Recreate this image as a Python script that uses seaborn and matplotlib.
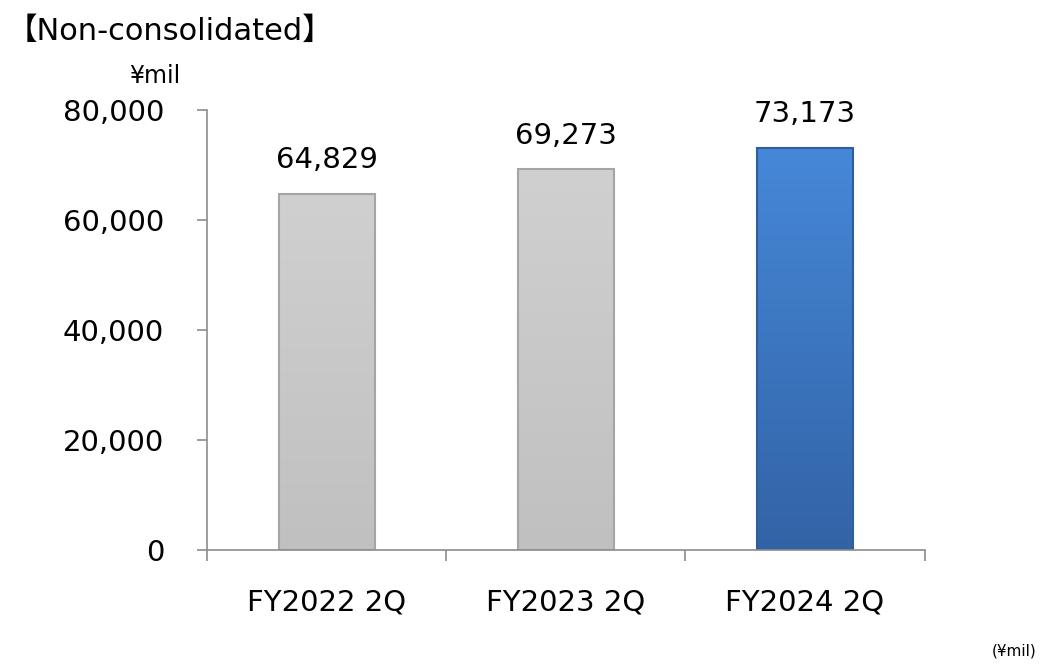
import matplotlib
matplotlib.use("Agg")
import matplotlib.pyplot as plt
from matplotlib.ticker import FuncFormatter, FixedLocator
from matplotlib.colors import LinearSegmentedColormap
import numpy as np
import seaborn as sns
import pandas as pd

# data
periods = ["FY2022 2Q", "FY2023 2Q", "FY2024 2Q"]
sales = [64829, 69273, 73173]
bar_colors = ["#C9C9C9", "#C9C9C9", "#3D7BC9"]
# top / bottom shades for the soft gradient look
grad_top = ["#D0D0D0", "#D0D0D0", "#4688D8"]
grad_bottom = ["#C0C0C0", "#C0C0C0", "#3263A6"]
edge_colors = ["#A5A5A5", "#A5A5A5", "#2F5E9E"]

df = pd.DataFrame({"period": periods, "sales": sales})

sns.set_style("white")
plt.rcParams["font.family"] = ["DejaVu Sans"]
plt.rcParams["text.color"] = "black"
plt.rcParams["xtick.labelcolor"] = "black"
plt.rcParams["ytick.labelcolor"] = "black"

fig = plt.figure(figsize=(10.47, 6.64), dpi=100)
ax = fig.add_axes([0.198, 0.172, 0.685, 0.662])

sns.barplot(data=df, x="period", y="sales", hue="period", palette=bar_colors,
            width=0.4, legend=False, ax=ax, saturation=1)

# fill each bar with a vertical gradient clipped to the bar
grad = np.linspace(0, 1, 256).reshape(-1, 1)
for patch, top, bot, ec in zip(ax.patches, grad_top, grad_bottom, edge_colors):
    x0, y0 = patch.get_x(), patch.get_y()
    w, h = patch.get_width(), patch.get_height()
    cmap = LinearSegmentedColormap.from_list("g", [bot, top])
    im = ax.imshow(grad, cmap=cmap, aspect="auto", origin="lower",
                   extent=(x0, x0 + w, y0, y0 + h), zorder=patch.get_zorder())
    im.set_clip_path(patch)
    patch.set_facecolor("none")
    patch.set_edgecolor(ec)
    patch.set_linewidth(1.5)
    patch.set_zorder(patch.get_zorder() + 0.1)

# value labels
for i, v in enumerate(sales):
    ax.annotate(f"{v:,}", (i, v), xytext=(0, 14), textcoords="offset points",
                ha="center", va="bottom", fontsize=21, color="black")

ax.set_ylim(0, 80000)
ax.set_xlim(-0.5, 2.5)
ax.set_yticks([0, 20000, 40000, 60000, 80000])
ax.yaxis.set_major_formatter(FuncFormatter(lambda v, p: f"{int(v):,}"))
ax.xaxis.set_minor_locator(FixedLocator([-0.5, 0.5, 1.5, 2.5]))

ax.set_xlabel("")
ax.set_ylabel("")

for s in ["top", "right"]:
    ax.spines[s].set_visible(False)
for s in ["left", "bottom"]:
    ax.spines[s].set_color("#8C8C8C")
    ax.spines[s].set_linewidth(1.2)

ax.tick_params(axis="y", which="major", length=7, width=1.2, color="#8C8C8C",
               labelsize=21, pad=24, left=True, labelcolor="black")
ax.tick_params(axis="x", which="major", length=0, labelsize=21, pad=28, labelcolor="black")
ax.tick_params(axis="x", which="minor", length=8, width=1.2, color="#8C8C8C", bottom=True)

fig.text(0.006, 0.952, "【Non-consolidated】", fontsize=22, ha="left", va="center",
         color="black", family=["DejaVu Sans", "Noto Sans CJK JP"])
fig.text(0.148, 0.885, "¥mil", fontsize=17, ha="center", va="center", color="black")
fig.text(0.99, 0.02, "(¥mil)", fontsize=11, ha="right", va="center", color="black")

fig.savefig("out.png", dpi=100)
